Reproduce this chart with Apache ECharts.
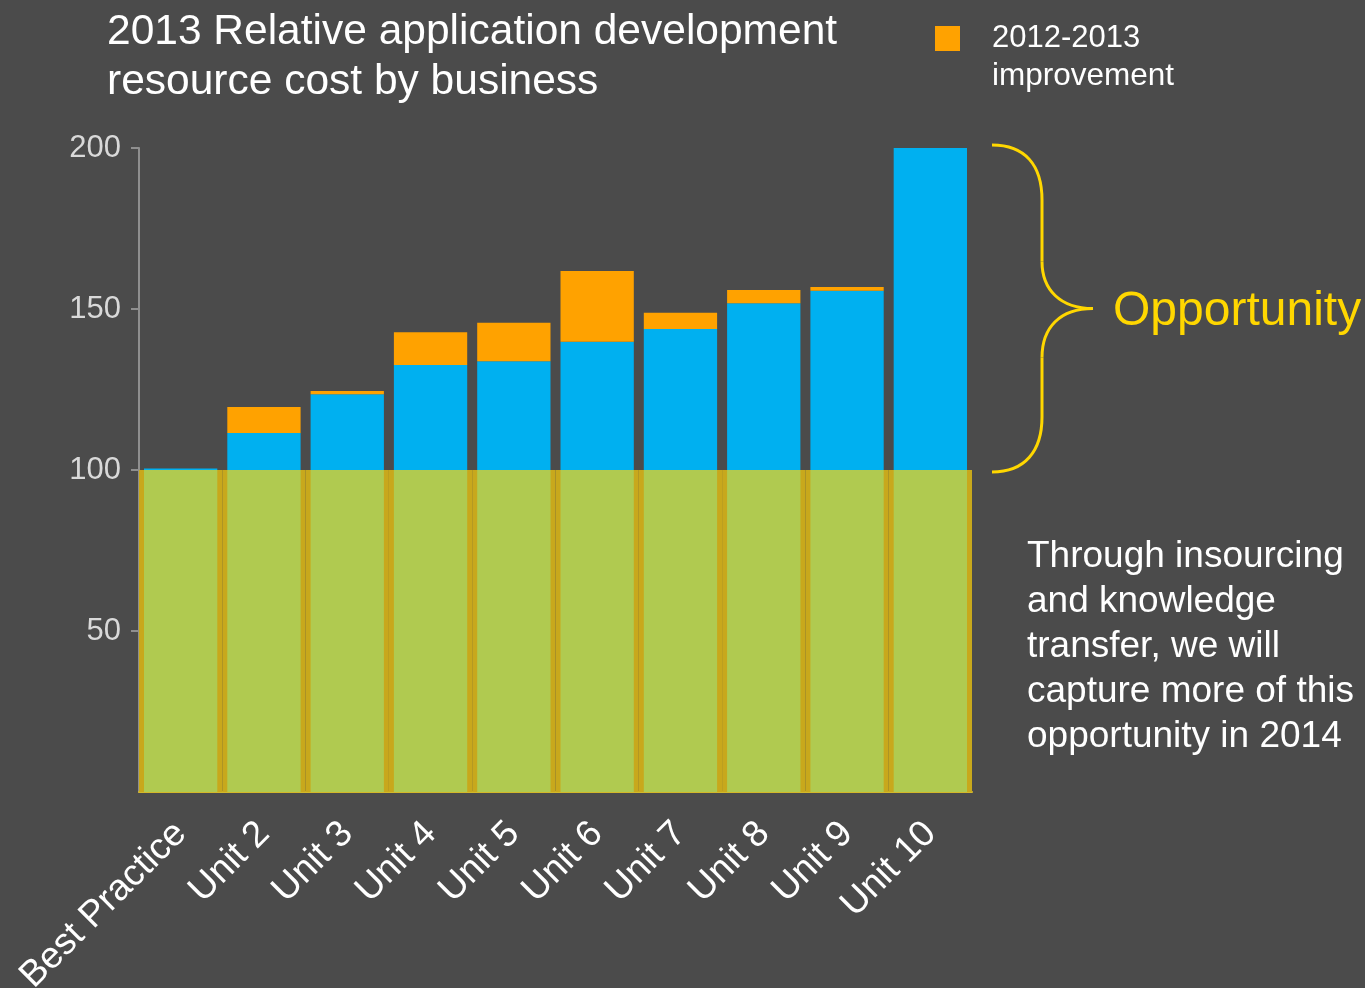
<!DOCTYPE html>
<html>
<head>
<meta charset="utf-8">
<title>2013 Relative application development resource cost</title>
<script src="https://cdn.jsdelivr.net/npm/echarts@6/dist/echarts.min.js"></script>
<style>
    html, body { margin: 0; padding: 0; background: #4b4b4b; }
    #chart { width: 1365px; height: 988px; }
</style>
</head>
<body>
<div id="chart"></div>
<script>
// values
const units = ['Best Practice', 'Unit 2', 'Unit 3', 'Unit 4', 'Unit 5', 'Unit 6', 'Unit 7', 'Unit 8', 'Unit 9', 'Unit 10'];
const cost2013 = [100.5, 111.5, 123.5, 132.6, 133.8, 139.8, 143.8, 151.8, 155.7, 200];
const improvement = [0, 8.1, 1.0, 10.2, 11.9, 22.0, 5.0, 4.1, 1.1, 0];
const bestPracticeLevel = [100, 100, 100, 100, 100, 100, 100, 100, 100, 100];
const yTicks = { min: 0, max: 200, interval: 50 };

const FONT = '"Liberation Sans", Arial, sans-serif';
const BLUE = '#00b0f0';
const ORANGE = '#ffa200';
const GREEN = '#b0ca50';
const MUSTARD = '#c8a81c';
const GOLD = '#ffd700';

const chart = echarts.init(document.getElementById('chart'));

const option = {
    backgroundColor: '#4b4b4b',
    animation: false,
    textStyle: { fontFamily: FONT },
    grid: { left: 139, right: 393, top: 148, bottom: 196, outerBoundsMode: 'none', containLabel: false },
    legend: {
        data: ['2012-2013 improvement'],
        left: 935,
        top: 23,
        padding: 0,
        itemWidth: 25,
        itemHeight: 25,
        icon: 'rect',
        formatter: () => '2012-2013',
        textStyle: {
            color: '#ffffff',
            fontSize: 31,
            padding: [2, 0, 0, 27],
            fontFamily: FONT
        }
    },
    xAxis: [{
        type: 'category',
        data: units,
        axisLine: { lineStyle: { color: '#d4b82a', width: 2 } },
        axisTick: { show: false },
        axisLabel: {
            color: '#ffffff',
            fontSize: 37,
            rotate: 45,
            margin: 36,
            interval: 0,
            fontFamily: FONT
        }
    }, {
        // full-width backdrop axis for the best-practice band
        type: 'category',
        data: units,
        show: false,
        position: 'bottom'
    }],
    yAxis: {
        type: 'value',
        min: yTicks.min,
        max: yTicks.max,
        interval: yTicks.interval,
        axisLine: { show: true, lineStyle: { color: '#8f8f8f', width: 2 } },
        axisTick: { show: true, length: 8, lineStyle: { color: '#8f8f8f', width: 2 } },
        splitLine: { show: false },
        axisLabel: {
            color: '#d9d9d9',
            fontSize: 31,
            margin: 18,
            showMinLabel: false,
            fontFamily: FONT
        }
    },
    series: [
        {
            name: '2013 cost',
            type: 'bar',
            stack: 'cost',
            data: cost2013,
            barWidth: '88%',
            barGap: '-100%',
            z: 2,
            itemStyle: { color: BLUE }
        },
        {
            name: '2012-2013 improvement',
            type: 'bar',
            stack: 'cost',
            data: improvement,
            barWidth: '88%',
            barGap: '-100%',
            z: 2,
            itemStyle: { color: ORANGE }
        },
        {
            name: 'band',
            type: 'bar',
            xAxisIndex: 1,
            data: bestPracticeLevel,
            barWidth: '100%',
            z: 3,
            itemStyle: { color: MUSTARD }
        },
        {
            name: 'best practice',
            type: 'bar',
            data: bestPracticeLevel,
            barWidth: '88%',
            barGap: '-100%',
            z: 4,
            itemStyle: { color: GREEN }
        }
    ]
};

chart.setOption(option);

// brace and notes on the right, placed from the axis scale
const yTop = chart.convertToPixel({ yAxisIndex: 0 }, 200) - 3;
const yBot = chart.convertToPixel({ yAxisIndex: 0 }, 100) + 2;
const yMid = (yTop + yBot) / 2;
const bx = 992;
const braceStyle = { stroke: GOLD, lineWidth: 3, fill: null };

chart.setOption({
    graphic: [
        {
            type: 'text',
            x: 107,
            y: 7,
            style: {
                text: '2013 Relative application development\nresource cost by business',
                fill: '#ffffff',
                font: '42.5px ' + FONT,
                lineHeight: 50
            }
        },
        {
            type: 'text',
            x: 992,
            y: 76,
            style: {
                text: 'improvement',
                fill: '#ffffff',
                font: '31.5px ' + FONT,
                verticalAlign: 'middle'
            }
        },
        {
            type: 'bezierCurve',
            shape: { x1: bx, y1: yTop, cpx1: bx + 33, cpy1: yTop, cpx2: bx + 50, cpy2: yTop + 20, x2: bx + 50, y2: yTop + 55 },
            style: braceStyle
        },
        {
            type: 'line',
            shape: { x1: bx + 50, y1: yTop + 55, x2: bx + 50, y2: yMid - 47 },
            style: braceStyle
        },
        {
            type: 'bezierCurve',
            shape: { x1: bx + 50, y1: yMid - 47, cpx1: bx + 50, cpy1: yMid - 19, cpx2: bx + 68, cpy2: yMid, x2: bx + 101, y2: yMid },
            style: braceStyle
        },
        {
            type: 'bezierCurve',
            shape: { x1: bx + 101, y1: yMid, cpx1: bx + 68, cpy1: yMid, cpx2: bx + 50, cpy2: yMid + 19, x2: bx + 50, y2: yMid + 49 },
            style: braceStyle
        },
        {
            type: 'line',
            shape: { x1: bx + 50, y1: yMid + 49, x2: bx + 50, y2: yBot - 55 },
            style: braceStyle
        },
        {
            type: 'bezierCurve',
            shape: { x1: bx + 50, y1: yBot - 55, cpx1: bx + 50, cpy1: yBot - 21, cpx2: bx + 33, cpy2: yBot, x2: bx, y2: yBot },
            style: braceStyle
        },
        {
            type: 'text',
            x: 1113,
            y: yMid + 3,
            style: {
                text: 'Opportunity',
                fill: GOLD,
                font: '48px ' + FONT,
                verticalAlign: 'middle'
            }
        },
        {
            type: 'text',
            x: 1027,
            y: 534,
            style: {
                text: 'Through insourcing\nand knowledge\ntransfer, we will\ncapture more of this\nopportunity in 2014',
                fill: '#ffffff',
                font: '37px ' + FONT,
                lineHeight: 45
            }
        }
    ]
});

window.addEventListener('resize', () => chart.resize());
</script>
</body>
</html>
